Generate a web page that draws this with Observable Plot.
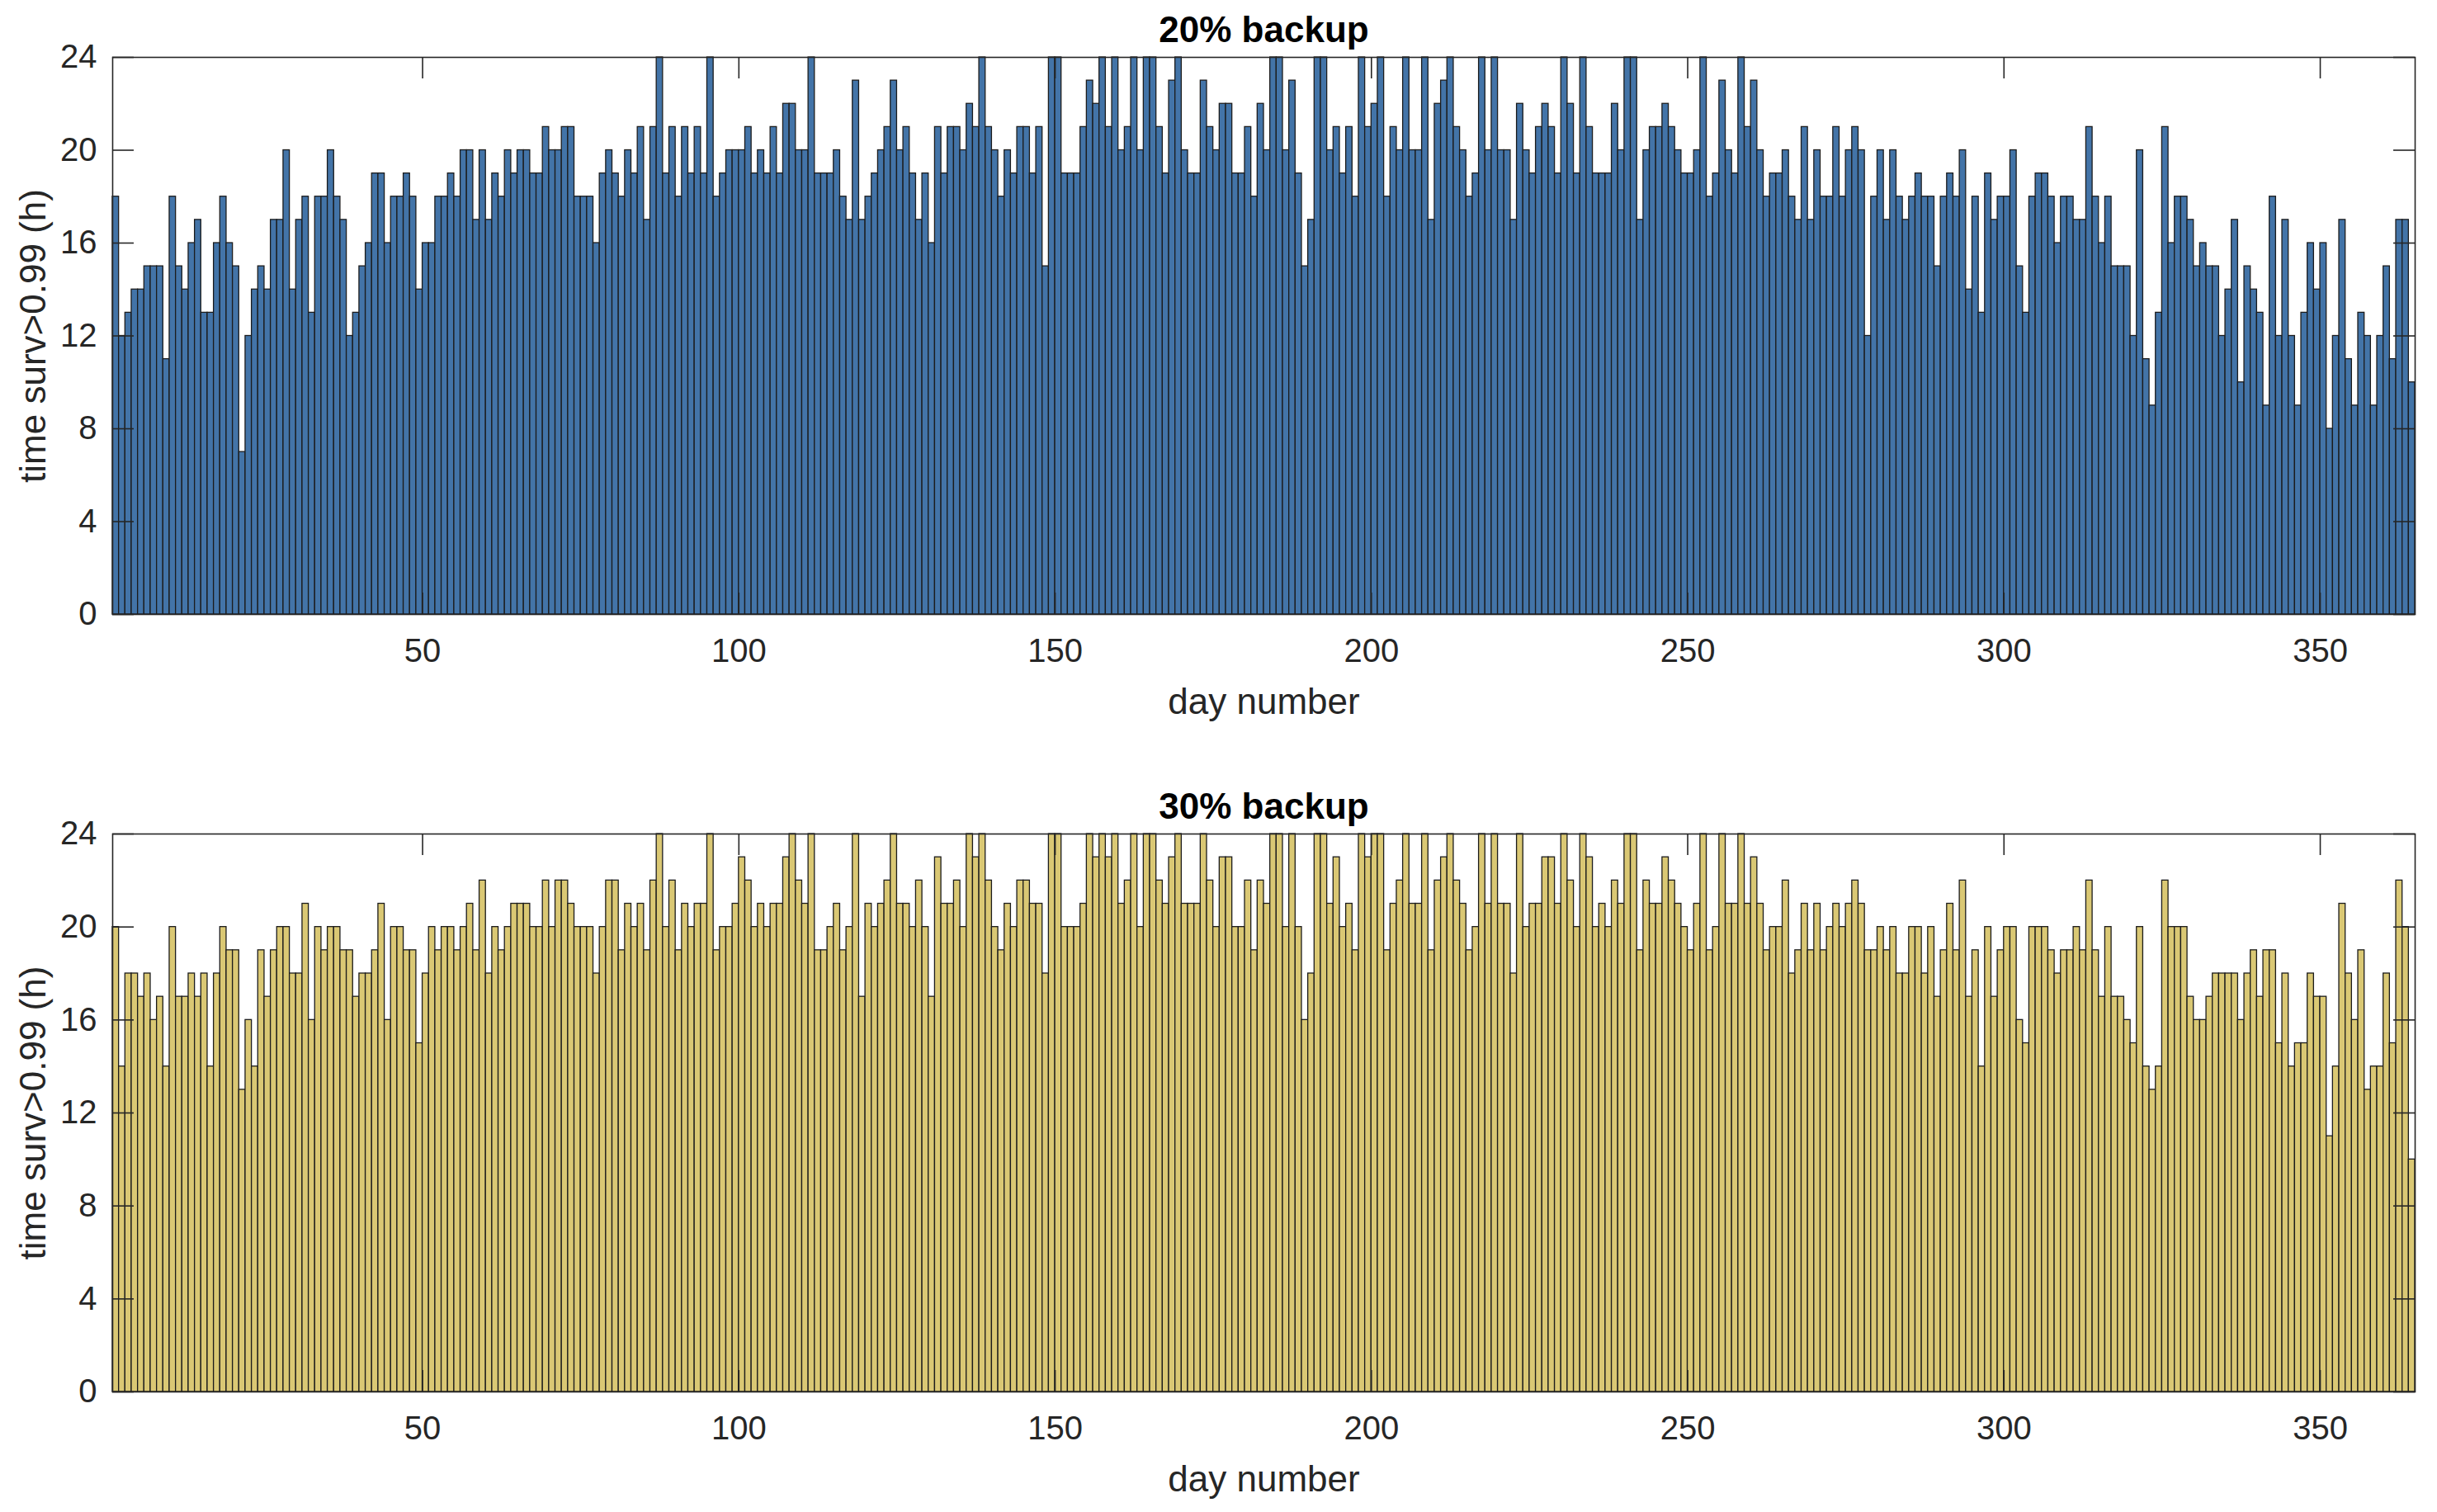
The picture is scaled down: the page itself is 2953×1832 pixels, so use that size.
<!DOCTYPE html>
<html>
<head>
<meta charset="utf-8">
<script src="https://cdn.jsdelivr.net/npm/d3@7"></script>
<script src="https://cdn.jsdelivr.net/npm/@observablehq/plot@0.6"></script>
<style>
  html, body { margin: 0; padding: 0; background: #ffffff; }
  #chart { width: 2953px; height: 1832px; background: #ffffff; }
  #chart svg { display: block; }
</style>
</head>
<body>
<div id="chart"></div>
<script>
// ---- data ----
const titles = ["20% backup", "30% backup"];
const xLabel = "day number";
const yLabel = "time surv>0.99 (h)";
const xTicks = [50, 100, 150, 200, 250, 300, 350];
const yTicks = [0, 4, 8, 12, 16, 20, 24];

const backup20 = [
  18,12,13,14,14,15,15,15,11,18,
  15,14,16,17,13,13,16,18,16,15,
  7,12,14,15,14,17,17,20,14,17,
  18,13,18,18,20,18,17,12,13,15,
  16,19,19,16,18,18,19,18,14,16,
  16,18,18,19,18,20,20,17,20,17,
  19,18,20,19,20,20,19,19,21,20,
  20,21,21,18,18,18,16,19,20,19,
  18,20,19,21,17,21,24,19,21,18,
  21,19,21,19,24,18,19,20,20,20,
  21,19,20,19,21,19,22,22,20,20,
  24,19,19,19,20,18,17,23,17,18,
  19,20,21,23,20,21,19,17,19,16,
  21,19,21,21,20,22,21,24,21,20,
  18,20,19,21,21,19,21,15,24,24,
  19,19,19,21,23,22,24,21,24,20,
  21,24,20,24,24,21,19,23,24,20,
  19,19,23,21,20,22,22,19,19,21,
  18,22,20,24,24,20,23,19,15,17,
  24,24,20,21,19,21,18,24,21,22,
  24,18,21,20,24,20,20,24,17,22,
  23,24,21,20,18,19,24,20,24,20,
  20,17,22,20,19,21,22,21,19,24,
  22,19,24,21,19,19,19,22,20,24,
  24,17,20,21,21,22,21,20,19,19,
  20,24,18,19,23,20,19,24,21,23,
  20,18,19,19,20,18,17,21,17,20,
  18,18,21,18,20,21,20,12,18,20,
  17,20,18,17,18,19,18,18,15,18,
  19,18,20,14,18,13,19,17,18,18,
  20,15,13,18,19,19,18,16,18,18,
  17,17,21,18,16,18,15,15,15,12,
  20,11,9,13,21,16,18,18,17,15,
  16,15,15,12,14,17,10,15,14,13,
  9,18,12,17,12,9,13,16,14,16,
  8,12,17,11,9,13,12,9,12,15,
  11,17,17,10
];

const backup30 = [
  20,14,18,18,17,18,16,17,14,20,
  17,17,18,17,18,14,18,20,19,19,
  13,16,14,19,17,19,20,20,18,18,
  21,16,20,19,20,20,19,19,17,18,
  18,19,21,16,20,20,19,19,15,18,
  20,19,20,20,19,20,21,19,22,18,
  20,19,20,21,21,21,20,20,22,20,
  22,22,21,20,20,20,18,20,22,22,
  19,21,20,21,19,22,24,20,22,19,
  21,20,21,21,24,19,20,20,21,23,
  22,20,21,20,21,21,23,24,22,21,
  24,19,19,20,21,19,20,24,17,21,
  20,21,22,24,21,21,20,22,20,17,
  23,21,21,22,20,24,23,24,22,20,
  19,21,20,22,22,21,21,18,24,24,
  20,20,20,21,24,23,24,23,24,21,
  22,24,20,24,24,22,21,23,24,21,
  21,21,24,22,20,23,23,20,20,22,
  19,22,21,24,24,20,24,20,16,18,
  24,24,21,23,20,21,19,24,23,24,
  24,19,21,22,24,21,21,24,19,22,
  23,24,22,21,19,20,24,21,24,21,
  21,18,24,20,21,21,23,23,21,24,
  22,20,24,23,20,21,20,22,21,24,
  24,19,22,21,21,23,22,21,20,19,
  21,24,19,20,24,21,21,24,21,23,
  21,19,20,20,22,18,19,21,19,21,
  19,20,21,20,21,22,21,19,19,20,
  19,20,18,18,20,20,18,20,17,19,
  21,19,22,17,19,14,20,17,19,20,
  20,16,15,20,20,20,19,18,19,19,
  20,19,22,19,17,20,17,17,16,15,
  20,14,13,14,22,20,20,20,17,16,
  16,17,18,18,18,18,16,18,19,17,
  19,19,15,18,14,15,15,18,17,17,
  11,14,21,18,16,19,13,14,14,18,
  15,22,20,10
];

const seriesColors = ["#4374a8", "#dac874"];

// ---- layout ----
const W = 2953;
const H = 916;
const mLeft = 136, mRight = 27;
const panels = [
  {values: backup20, title: titles[0], color: seriesColors[0], mTop: 69, mBottom: 172},
  {values: backup30, title: titles[1], color: seriesColors[1], mTop: 94, mBottom: 146}
];
const tickLen = 26;
const axisColor = "#262626";

const chart = document.getElementById("chart");

for (const p of panels) {
  const data = p.values.map((v, i) => ({day: i + 1, v}));
  const innerW = W - mLeft - mRight;
  const innerH = H - p.mTop - p.mBottom;
  const svg = Plot.plot({
    width: W,
    height: H,
    marginLeft: mLeft,
    marginRight: mRight,
    marginTop: p.mTop,
    marginBottom: p.mBottom,
    style: {
      fontFamily: "'Liberation Sans', Arial, Helvetica, sans-serif",
      fontSize: "40px",
      color: axisColor,
      background: "#ffffff",
      overflow: "visible"
    },
    x: {domain: [1, 365]},
    y: {domain: [0, 24]},
    marks: [
      Plot.rectY(data, {
        x1: "day",
        x2: d => d.day + 1,
        y: "v",
        fill: p.color,
        stroke: "#1c1c1c",
        strokeWidth: 1.3
      }),
      Plot.frame({stroke: axisColor, strokeWidth: 1.6}),
      Plot.tickX(xTicks, {x: d => d, insetTop: innerH - tickLen, stroke: axisColor, strokeWidth: 1.6}),
      Plot.tickX(xTicks, {x: d => d, insetBottom: innerH - tickLen, stroke: axisColor, strokeWidth: 1.6}),
      Plot.tickY(yTicks, {y: d => d, insetRight: innerW - tickLen, stroke: axisColor, strokeWidth: 1.6}),
      Plot.tickY(yTicks, {y: d => d, insetLeft: innerW - tickLen, stroke: axisColor, strokeWidth: 1.6}),
      Plot.axisX({ticks: xTicks, tickSize: 0, tickPadding: 29, label: null, fontSize: 40}),
      Plot.axisY({ticks: yTicks, tickSize: 0, tickPadding: 19, label: null, fontSize: 40}),
      Plot.text([p.title], {frameAnchor: "top", lineAnchor: "middle", textAnchor: "middle", dy: -33, fontWeight: "bold", fontSize: 44, fill: "#000000"}),
      Plot.text([xLabel], {frameAnchor: "bottom", lineAnchor: "middle", textAnchor: "middle", dy: 106, fontSize: 44}),
      Plot.text([yLabel], {frameAnchor: "left", lineAnchor: "middle", textAnchor: "middle", dx: -96, rotate: -90, fontSize: 44})
    ]
  });
  chart.appendChild(svg);
}
</script>
</body>
</html>
